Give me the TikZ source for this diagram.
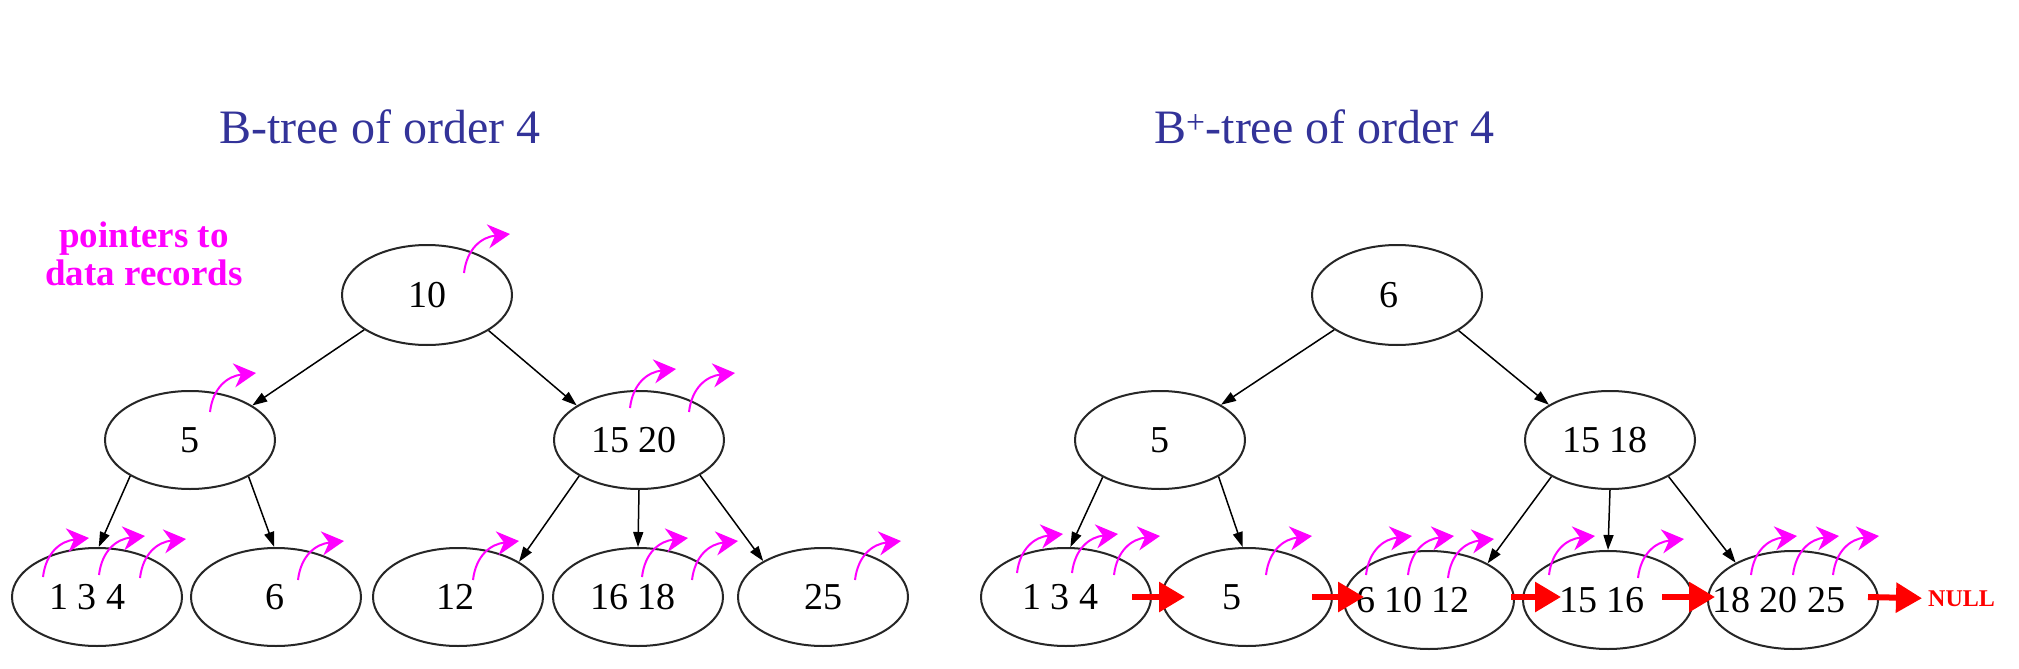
\documentclass[tikz,border=0pt]{standalone}
\usepackage{fontspec}
\setmainfont{Liberation Serif}
\usetikzlibrary{shapes.geometric,arrows.meta}
\definecolor{titleblue}{RGB}{51,51,153}
\definecolor{ptrmag}{RGB}{255,0,255}
\newcommand\shifted[2]{\makebox[0pt]{\kern#1\relax #2}}
\newcommand\ptrat[3]{\draw[ptr] ([shift={(#2,#3)}]#1.center) .. controls +(3,-25) and +(-28,3) .. +(46,-39);}
\begin{document}
\begin{tikzpicture}[x=1pt,y=-1pt,
  tnode/.style={draw=black!85, line width=2pt, ellipse, minimum width=170pt, minimum height=98pt, inner sep=0pt, font=\fontsize{38}{40}\selectfont},
  edge/.style={draw=black, line width=1.5pt, -{Triangle[length=15pt,width=10pt]}},
  ptr/.style={draw=ptrmag, line width=2pt, -{Stealth[length=22pt,width=24pt,inset=7pt]}},
  link/.style={draw=red, line width=6pt, -{Triangle[length=26pt,width=29pt]}},
  ttl/.style={text=titleblue, font=\fontsize{48}{50}\selectfont, inner sep=0pt, anchor=base west}
]
\fill[white] (0,0) rectangle (2019,669);
\useasboundingbox (0,0) rectangle (2019,669);

% titles
\node[ttl] (t1) at (219,143) {B-tree of order 4};
\node[ttl] (t2) at (1154,143) {B\textsuperscript{+}-tree of order 4};
\node[text=ptrmag, font=\bfseries\fontsize{37}{38}\selectfont, align=center, anchor=base] (lbl) at (144,285) {pointers to\\data records};

% B-tree nodes
\node[tnode, minimum height=100pt] (b10) at (427,295) {10};
\node[tnode] (b5) at (190,440) {5};
\node[tnode] (b1520) at (639,440) {\shifted{-10pt}{15 20}};
\node[tnode] (b134) at (97,597) {\shifted{-20pt}{1 3 4}};
\node[tnode] (b6) at (276,597) {\shifted{-2pt}{6}};
\node[tnode] (b12) at (458,597) {\shifted{-6pt}{12}};
\node[tnode] (b1618) at (638,597) {\shifted{-10pt}{16 18}};
\node[tnode] (b25) at (823,597) {\shifted{0pt}{25}};

% B+-tree nodes
\node[tnode, minimum height=100pt] (r6) at (1397,295) {\shifted{-16pt}{6}};
\node[tnode] (p5i) at (1160,440) {5};
\node[tnode] (p1518) at (1610,440) {\shifted{-10pt}{15 18}};
\node[tnode] (p134) at (1066,597) {\shifted{-12pt}{1 3 4}};
\node[tnode] (p5) at (1247,597) {\shifted{-30pt}{5}};
\node[tnode] (p61012) at (1429,600) {\shifted{-32pt}{6 10 12}};
\node[tnode] (p1516) at (1608,600) {\shifted{-12pt}{15 16}};
\node[tnode] (p182025) at (1793,600) {\shifted{-28pt}{18 20 25}};
\node[text=red, font=\bfseries\fontsize{24}{26}\selectfont, inner sep=0pt, anchor=base west] (null) at (1928,606) {NULL};

% B-tree edges
\draw[edge] (b10.209) -- (b5.29);
\draw[edge] (b10.330) -- (b1520.151);
\draw[edge] (b5.211) -- (b134.88);
\draw[edge] (b5.328) -- (b6.92);
\draw[edge] (b1520.211) -- (b12.30);
\draw[edge] (b1520.270) -- (b1618.90);
\draw[edge] (b1520.330) -- (b25.149);

% B+-tree edges
\draw[edge] (r6.209) -- (p5i.30);
\draw[edge] (r6.330) -- (p1518.150);
\draw[edge] (p5i.213) -- (p134.85);
\draw[edge] (p5i.328) -- (p5.95);
\draw[edge] (p1518.212) -- (p61012.32);
\draw[edge] (p1518.270) -- (p1516.90);
\draw[edge] (p1518.328) -- (p182025.147);

% data pointers (B-tree)
\ptrat{b10}{37}{-22}
\ptrat{b5}{20}{-28}
\ptrat{b1520}{-9}{-32}
\ptrat{b1520}{50}{-28}
\ptrat{b134}{-54}{-20}
\ptrat{b134}{2}{-22}
\ptrat{b134}{43}{-19}
\ptrat{b6}{22}{-17}
\ptrat{b12}{15}{-17}
\ptrat{b1618}{4}{-20}
\ptrat{b1618}{54}{-17}
\ptrat{b25}{32}{-17}

% data pointers (B+-tree leaves)
\ptrat{p134}{-49}{-24}
\ptrat{p134}{6}{-24}
\ptrat{p134}{48}{-22}
\ptrat{p5}{19}{-22}
\ptrat{p61012}{-63}{-25}
\ptrat{p61012}{-21}{-25}
\ptrat{p61012}{19}{-22}
\ptrat{p1516}{-59}{-25}
\ptrat{p1516}{30}{-22}
\ptrat{p182025}{-42}{-25}
\ptrat{p182025}{0}{-25}
\ptrat{p182025}{40}{-25}

% leaf links
\draw[link] ([xshift=-20pt]p134.east) -- ([xshift=24pt]p5.west);
\draw[link] ([xshift=-21pt]p5.east) -- ([xshift=21pt,yshift=3pt]p61012.west);
\draw[link] ([xshift=-4pt,yshift=3pt]p61012.east) -- ([xshift=39pt,yshift=3pt]p1516.west);
\draw[link] ([xshift=-32pt,yshift=3pt]p1516.east) -- ([xshift=8pt,yshift=3pt]p182025.west);
\draw[link] ([xshift=-11pt,yshift=3pt]p182025.east) -- ([xshift=-6pt]null.west);
\end{tikzpicture}
\end{document}
